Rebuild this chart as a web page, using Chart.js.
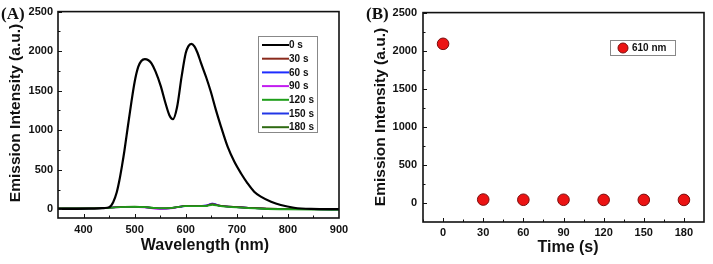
<!DOCTYPE html>
<html>
<head>
<meta charset="utf-8">
<script src="https://cdn.jsdelivr.net/npm/chart.js@4.4.1/dist/chart.umd.min.js"></script>
<style>
  html, body { margin: 0; padding: 0; background: #fff; }
  #wrap { position: relative; width: 713px; height: 264px; }
  #panelA { position: absolute; left: 0; top: 0; }
  #panelB { position: absolute; left: 356px; top: 0; }
</style>
</head>
<body>
<div id="wrap">
  <canvas id="panelA" width="356" height="264"></canvas>
  <canvas id="panelB" width="357" height="264"></canvas>
</div>
<script>
// ---- panel A: emission spectra ----
// 0 s spectrum
const wl0 = [350, 380, 410, 430, 440, 450, 458, 465, 470, 475, 480, 487, 494, 500, 507, 513, 520, 527, 533, 541,
  551, 560, 568, 575, 583, 592, 600, 605, 611, 617, 623, 630, 640, 649, 659, 669, 682, 695, 708, 721,
  734, 747, 767, 786, 812, 845, 900];
const int0 = [5, 6, 8, 12, 16, 25, 90, 215, 360, 540, 740, 1060, 1370, 1610, 1800, 1875, 1900, 1885, 1845, 1740,
  1560, 1350, 1190, 1139, 1290, 1680, 1975, 2060, 2092, 2060, 1980, 1848, 1670, 1489, 1257, 1046, 792, 603, 456, 329,
  223, 160, 96, 54, 20, 6, 3];
// later spectra stay close to the baseline
const wlLow = [350, 400, 450, 480, 500, 520, 550, 570, 590, 600, 620, 640, 652, 665, 700, 750, 800, 850, 900];
const int30 = [12, 13, 20, 33, 33, 28, 12, 15, 35, 43, 42, 45, 66, 48, 28, 12, 5, 2, 0];
const int60 = [11, 12, 19, 32, 32, 27, 11, 14, 34, 42, 41, 47, 72, 49, 27, 11, 4, 1, -1];
const int90 = [10, 11, 18, 31, 31, 24, 4, 10, 32, 41, 40, 48, 74, 48, 26, 10, 3, 0, -2];
const int120 = [8, 9, 17, 30, 31, 27, 14, 16, 33, 40, 38, 40, 55, 42, 22, 6, -2, -6, -8];
const int150 = [11, 12, 19, 32, 32, 27, 11, 14, 34, 42, 41, 46, 70, 48, 27, 11, 4, 1, -1];
const int180 = [12, 13, 20, 33, 34, 29, 13, 16, 35, 43, 42, 45, 64, 47, 28, 12, 5, 2, 0];
const seriesLabels = ['0 s', '30 s', '60 s', '90 s', '120 s', '150 s', '180 s'];
const seriesColors = ['#000000', '#8a2a1c', '#1e2cff', '#c21cf0', '#1f9e1a', '#2236e6', '#2f6a12'];
const seriesOrder = [0, 3, 3, 3, 1, 3, 2];
const seriesX = [wl0, wlLow, wlLow, wlLow, wlLow, wlLow, wlLow];
const seriesY = [int0, int30, int60, int90, int120, int150, int180];
const ticksAX = [400, 500, 600, 700, 800, 900];
const minorAX = [450, 550, 650, 750, 850];
const ticksAY = [0, 500, 1000, 1500, 2000, 2500];
const minorAY = [250, 750, 1250, 1750, 2250];

// ---- panel B: intensity at 610 nm vs time ----
const timeS = [0, 30, 60, 90, 120, 150, 180];
const int610 = [2090, 45, 42, 42, 40, 40, 40];
const ticksBX = [0, 30, 60, 90, 120, 150, 180];
const minorBX = [-15, 15, 45, 75, 105, 135, 165, 195];
const ticksBY = [0, 500, 1000, 1500, 2000, 2500];
const minorBY = [250, 750, 1250, 1750, 2250];

const SANS = '"Liberation Sans", Arial, sans-serif';
const SERIF = '"Liberation Serif", "Times New Roman", serif';

// frame, inward ticks, titles and panel letter
const decor = {
  id: 'decor',
  afterDraw(chart, args, o) {
    const {ctx, chartArea: a} = chart;
    const x = chart.scales.x, y = chart.scales.y;
    ctx.save();
    ctx.strokeStyle = '#111';
    ctx.lineWidth = 1;
    const tx = (vals, len) => vals.forEach(v => {
      const px = Math.round(x.getPixelForValue(v)) + 0.5;
      if (px < a.left || px > a.right) return;
      ctx.beginPath(); ctx.moveTo(px, a.bottom); ctx.lineTo(px, a.bottom - len); ctx.stroke();
    });
    const ty = (vals, len) => vals.forEach(v => {
      const py = Math.round(y.getPixelForValue(v)) + 0.5;
      if (py < a.top || py > a.bottom) return;
      ctx.beginPath(); ctx.moveTo(a.left, py); ctx.lineTo(a.left + len, py); ctx.stroke();
    });
    tx(o.xMajor, 4); tx(o.xMinor, 2.5); ty(o.yMajor, 4); ty(o.yMinor, 2.5);
    ctx.lineWidth = 1.6;
    ctx.strokeRect(a.left, a.top, a.right - a.left, a.bottom - a.top);

    ctx.fillStyle = '#111';
    ctx.textAlign = 'center';
    ctx.textBaseline = 'middle';
    ctx.font = 'bold 16px ' + SANS;
    ctx.fillText(o.xTitle, o.xTitleX, o.xTitleY);
    ctx.save();
    ctx.translate(o.yTitleX, o.yTitleY);
    ctx.rotate(-Math.PI / 2);
    ctx.font = 'bold 15.5px ' + SANS;
    ctx.fillText(o.yTitle, 0, 0);
    ctx.restore();
    ctx.textAlign = 'left';
    ctx.textBaseline = 'alphabetic';
    ctx.font = 'bold 17px ' + SERIF;
    ctx.fillText(o.letter, o.letterX, 19);
    ctx.restore();
  }
};

const legendA = {
  id: 'legendA',
  afterDraw(chart) {
    const {ctx} = chart;
    ctx.save();
    ctx.fillStyle = '#fff';
    ctx.fillRect(258, 36, 59, 96);
    ctx.strokeStyle = '#888';
    ctx.lineWidth = 1;
    ctx.strokeRect(258.5, 36.5, 59, 96);
    ctx.font = 'bold 10px ' + SANS;
    ctx.textBaseline = 'middle';
    chart.data.datasets.forEach((ds, i) => {
      const yy = 45 + i * 13.7;
      ctx.strokeStyle = ds.borderColor;
      ctx.lineWidth = 2;
      ctx.beginPath(); ctx.moveTo(262, yy); ctx.lineTo(289, yy); ctx.stroke();
      ctx.fillStyle = '#111';
      ctx.fillText(ds.label, 289, yy + 0.5);
    });
    ctx.restore();
  }
};

const legendB = {
  id: 'legendB',
  afterDraw(chart) {
    const {ctx} = chart;
    const ds = chart.data.datasets[0];
    ctx.save();
    ctx.strokeStyle = '#888';
    ctx.lineWidth = 1;
    ctx.strokeRect(254.5, 40.5, 65, 15);
    ctx.beginPath();
    ctx.arc(267, 48, 5, 0, Math.PI * 2);
    ctx.fillStyle = ds.pointBackgroundColor;
    ctx.fill();
    ctx.strokeStyle = ds.pointBorderColor;
    ctx.stroke();
    ctx.fillStyle = '#111';
    ctx.font = 'bold 10px ' + SANS;
    ctx.textBaseline = 'middle';
    ctx.fillText(ds.label, 276, 48.5);
    ctx.restore();
  }
};

function axes(xMin, xMax, yMin, yMax, xTicks, yTicks, yWidth, xHeight, yPad, xPad) {
  const tickFont = {family: SANS, size: 11, weight: 'bold'};
  return {
    x: {
      type: 'linear', min: xMin, max: xMax,
      grid: {display: false, drawTicks: false}, border: {display: false},
      afterBuildTicks: s => { s.ticks = xTicks.map(v => ({value: v})); },
      afterFit: s => { s.height = xHeight; },
      ticks: {color: '#111', font: tickFont, padding: xPad, maxRotation: 0, autoSkip: false, callback: v => String(v)}
    },
    y: {
      type: 'linear', min: yMin, max: yMax,
      grid: {display: false, drawTicks: false}, border: {display: false},
      afterBuildTicks: s => { s.ticks = yTicks.map(v => ({value: v})); },
      afterFit: s => { s.width = yWidth; },
      ticks: {color: '#111', font: tickFont, padding: yPad, autoSkip: false, callback: v => String(v)}
    }
  };
}

new Chart(document.getElementById('panelA'), {
  type: 'line',
  data: {
    datasets: seriesLabels.map((lab, i) => ({
      label: lab,
      data: seriesX[i].map((w, k) => ({x: w, y: seriesY[i][k]})),
      borderColor: seriesColors[i],
      borderWidth: i === 0 ? 2.2 : 1.6,
      pointRadius: 0,
      fill: false,
      order: seriesOrder[i],
      cubicInterpolationMode: 'monotone'
    }))
  },
  options: {
    responsive: false,
    animation: false,
    layout: {padding: {left: 0, right: 17, top: 11, bottom: 0}},
    scales: axes(350, 900, -110, 2500, ticksAX, ticksAY, 58, 46, 5, 5),
    plugins: {
      legend: {display: false},
      tooltip: {enabled: false},
      decor: {
        xMajor: ticksAX, xMinor: minorAX, yMajor: ticksAY, yMinor: minorAY,
        xTitle: 'Wavelength (nm)', xTitleX: 205, xTitleY: 246,
        yTitle: 'Emission Intensity (a.u.)', yTitleX: 16, yTitleY: 113,
        letter: '(A)', letterX: 1
      }
    }
  },
  plugins: [decor, legendA]
});

new Chart(document.getElementById('panelB'), {
  type: 'scatter',
  data: {
    datasets: [{
      label: '610 nm',
      data: timeS.map((t, k) => ({x: t, y: int610[k]})),
      pointRadius: 5.8,
      pointBackgroundColor: '#ec1313',
      pointBorderColor: '#7a0c0c',
      pointBorderWidth: 1,
      showLine: false
    }]
  },
  options: {
    responsive: false,
    animation: false,
    layout: {padding: {left: 0, right: 9, top: 11, bottom: 0}},
    scales: axes(-15, 195, -250, 2500, ticksBX, ticksBY, 67, 42, 6, 4),
    plugins: {
      legend: {display: false},
      tooltip: {enabled: false},
      decor: {
        xMajor: ticksBX, xMinor: minorBX, yMajor: ticksBY, yMinor: minorBY,
        xTitle: 'Time (s)', xTitleX: 212, xTitleY: 248,
        yTitle: 'Emission Intensity (a.u.)', yTitleX: 25, yTitleY: 117,
        letter: '(B)', letterX: 10
      }
    }
  },
  plugins: [decor, legendB]
});
</script>
</body>
</html>
